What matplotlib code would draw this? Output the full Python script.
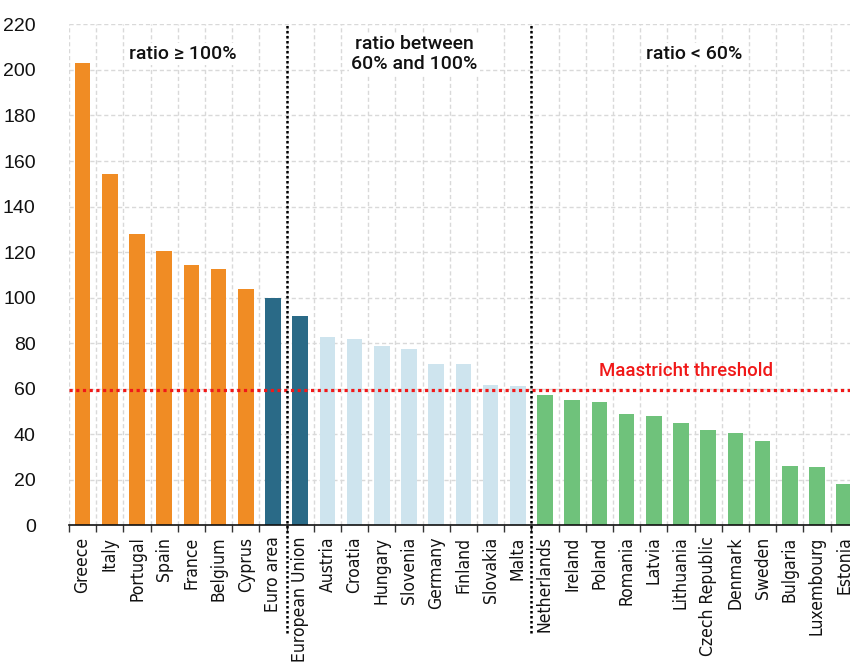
import numpy as np
import matplotlib
matplotlib.use("Agg")
import matplotlib.pyplot as plt
import matplotlib.transforms as mtransforms

# debt-to-GDP ratio
countries = ["Greece", "Italy", "Portugal", "Spain", "France", "Belgium", "Cyprus",
             "Euro area", "European Union", "Austria", "Croatia", "Hungary", "Slovenia",
             "Germany", "Finland", "Slovakia", "Malta", "Netherlands", "Ireland", "Poland",
             "Romania", "Latvia", "Lithuania", "Czech Republic", "Denmark", "Sweden",
             "Bulgaria", "Luxembourg", "Estonia"]
ratios = [203.0, 154.3, 128.0, 120.5, 114.4, 112.6, 103.8,
          100.0, 92.0, 82.8, 81.9, 78.8, 77.5,
          70.9, 70.9, 61.7, 61.3, 57.3, 55.1, 54.2,
          48.9, 48.1, 45.0, 41.9, 40.6, 37.1,
          26.1, 25.7, 18.2]
groups = ["high"] * 7 + ["agg"] * 2 + ["mid"] * 8 + ["low"] * 12
threshold = 59.5
section_labels = ["ratio \u2265 100%", "ratio between\n60% and 100%", "ratio < 60%"]

group_colors = {"high": "#F08C24", "agg": "#2A6A87", "mid": "#CEE4EE", "low": "#6FC27B"}

fig = plt.figure(figsize=(8.5, 6.66), dpi=100)
ax = fig.add_axes([69 / 850, 140.6 / 666, 788.8 / 850, 501 / 666])

x = np.arange(len(countries))
ax.bar(x, ratios, width=0.58, color=[group_colors[g] for g in groups], zorder=2)

ax.set_xlim(-0.5, len(countries) - 0.5)
ax.set_ylim(0, 220)
ax.set_yticks(np.arange(0, 221, 20))
ax.set_xticks(x)
ax.set_xticklabels(countries, rotation=90, fontsize=12.6, family="DejaVu Sans",
                   fontstretch="condensed", color="#111111")
ax.set_xticks(np.arange(-0.5, len(countries), 1.0), minor=True)
ax.tick_params(axis="x", which="major", length=0, pad=8)
ax.tick_params(axis="x", which="minor", length=5, width=1, color="#333333")
ax.tick_params(axis="y", length=0, pad=24, labelsize=14)
for lab in ax.get_yticklabels():
    lab.set_family("Liberation Sans")
    lab.set_color("#111111")

# grid: dashed, vertical lines on category borders
ax.grid(False)
ax.grid(axis="y", which="major", color="#d9d9d9", linestyle=(0, (3, 2)), linewidth=1, zorder=0)
ax.grid(axis="x", which="minor", color="#d9d9d9", linestyle=(0, (3, 2)), linewidth=1, zorder=0)
ax.set_axisbelow(True)
for side in ["top", "right", "left"]:
    ax.spines[side].set_visible(False)
ax.spines["bottom"].set_color("#111111")
ax.spines["bottom"].set_linewidth(1.2)
ax.spines["bottom"].set_zorder(3)

# Maastricht threshold
ax.axhline(threshold, color="#F01818", linestyle=(0, (1, 1.1)), linewidth=2.3, zorder=4)
ax.text(19.0, threshold + 4.3, "Maastricht threshold", color="#F01818", fontsize=13.4,
        family="Roboto", weight="medium", ha="left", va="bottom", zorder=5)

# section separators, running down through the tick labels
trans = mtransforms.blended_transform_factory(ax.transData, ax.transAxes)
for xs in [7.5, 16.5]:
    ax.plot([xs, xs], [-0.215, 1.0], transform=trans, color="black",
            linestyle=(0, (1, 1)), linewidth=1.8, clip_on=False, zorder=5)

box = dict(facecolor="white", edgecolor="none", pad=1.5)
txt = dict(ha="center", va="center", fontsize=14, family="Roboto", weight="medium",
           color="#111111", bbox=box, zorder=3)
ax.text(3.7, 207, section_labels[0], **txt)
ax.text(12.2, 207, section_labels[1], linespacing=1.15, **txt)
ax.text(22.5, 207, section_labels[2], **txt)

fig.savefig("out.png", dpi=100)
